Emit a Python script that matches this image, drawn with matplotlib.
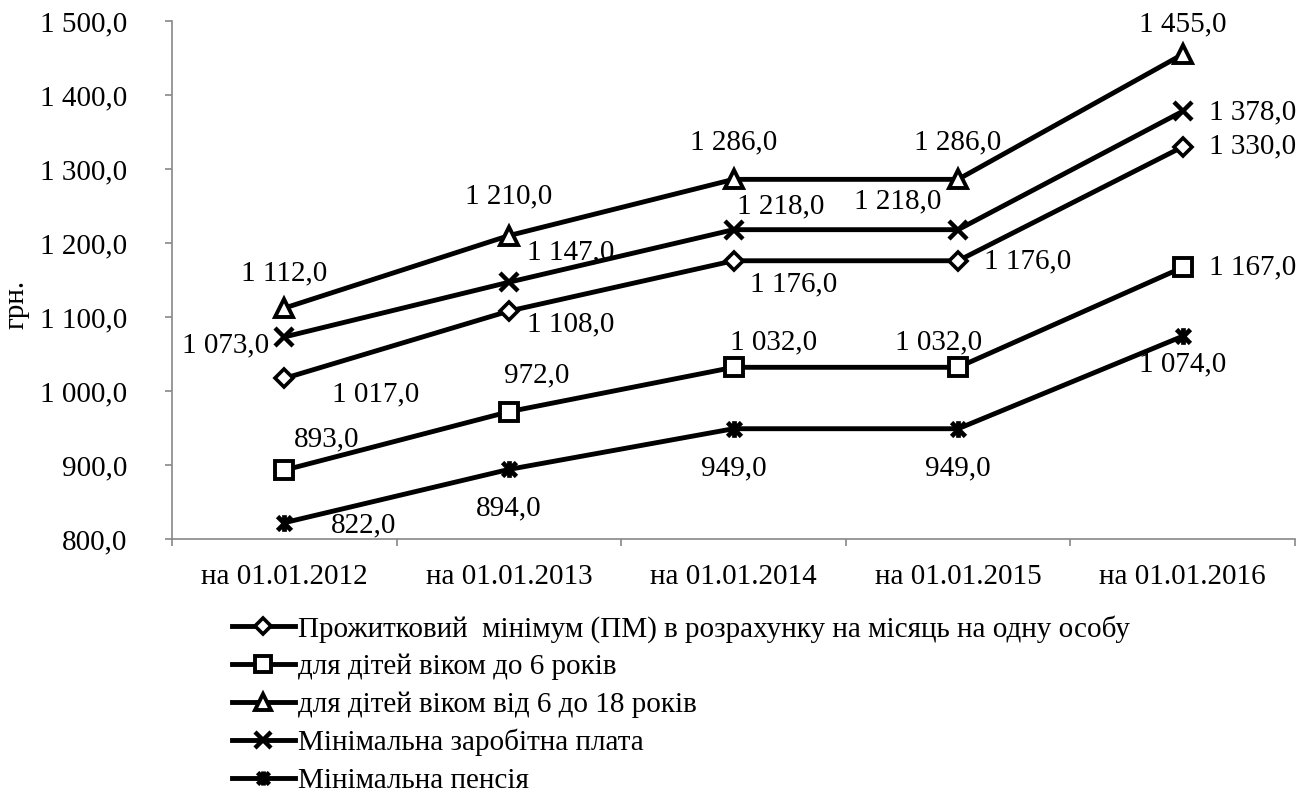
import matplotlib.pyplot as plt
from matplotlib.path import Path
from matplotlib.ticker import FuncFormatter, FixedLocator

plt.rcParams['font.family'] = ['Liberation Serif', 'DejaVu Serif']

# Data
dates = ["на 01.01.2012", "на 01.01.2013", "на 01.01.2014", "на 01.01.2015", "на 01.01.2016"]
pm = [1017, 1108, 1176, 1176, 1330]
kids_0_6 = [893, 972, 1032, 1032, 1167]
kids_6_18 = [1112, 1210, 1286, 1286, 1455]
min_wage = [1073, 1147, 1218, 1218, 1378]
min_pension = [822, 894, 949, 949, 1074]

names = ["Прожитковий  мінімум (ПМ) в розрахунку на місяць на одну особу",
         "для дітей віком до 6 років",
         "для дітей віком від 6 до 18 років",
         "Мінімальна заробітна плата",
         "Мінімальна пенсія"]


def fmt(v):
    s = "{:,.1f}".format(v)
    return s.replace(",", " ").replace(".", ",")


# star marker like Excel (x with vertical bar)
star = Path([(-1, -1), (1, 1), (-1, 1), (1, -1), (0, -1.2), (0, 1.2)],
            [Path.MOVETO, Path.LINETO, Path.MOVETO, Path.LINETO, Path.MOVETO, Path.LINETO])

series = [pm, kids_0_6, kids_6_18, min_wage, min_pension]
markers = ['D', 's', '^', 'x', star]
msizes = [9, 13, 13, 13, 12]
mews = [2.6, 2.8, 2.8, 3.2, 3.4]
faces = ['white', 'white', 'white', 'black', 'black']

# label offsets in pixels (dx, dy) for each point
offsets = [
    [(91, -16), (62, -13), (60, -24), (70, -1), (70, 0)],
    [(42, 31), (28, 36), (40, 25), (-20, 25), (70, 0)],
    [(0, 35), (0, 39), (0, 37), (0, 37), (0, 30)],
    [(-59, -8), (62, 30), (47, 23), (-60, 28), (70, -1)],
    [(79, -3), (0, -39), (0, -40), (0, -40), (0, -28)],
]

fig = plt.figure(figsize=(13.13, 7.96), dpi=100)
ax = fig.add_axes([0.131, 0.3229, 0.8553, 0.6507])

x = range(len(dates))
handles = []
for i, s in enumerate(series):
    h, = ax.plot(x, s, color='black', lw=3.5, marker=markers[i], ms=msizes[i],
                 mfc=faces[i], mec='black', mew=mews[i], label=names[i])
    handles.append(h)
    for j, v in enumerate(s):
        ax.annotate(fmt(v), (j, v), xytext=offsets[i][j], textcoords='offset pixels',
                    ha='center', va='center', fontsize=21)

ax.set_xlim(-0.5, 4.5)
ax.set_ylim(800, 1500)
ax.set_yticks(range(800, 1501, 100))
ax.yaxis.set_major_formatter(FuncFormatter(lambda v, p: fmt(v)))
ax.set_xticks(list(x))
ax.set_xticklabels(dates)
ax.xaxis.set_minor_locator(FixedLocator([-0.5, 0.5, 1.5, 2.5, 3.5, 4.5]))
ax.tick_params(axis='x', which='major', length=0, pad=18, labelsize=21)
ax.tick_params(axis='x', which='minor', length=5, color='#888888', width=1.2)
ax.tick_params(axis='y', length=5, color='#888888', width=1.2, pad=27, labelsize=21)

for side in ['top', 'right']:
    ax.spines[side].set_visible(False)
for side in ['left', 'bottom']:
    ax.spines[side].set_color('#888888')
    ax.spines[side].set_linewidth(1.2)

ax.set_ylabel("грн.", fontsize=21)
ax.yaxis.set_label_coords(-0.127, 0.452)

fig.legend(handles=handles, loc='upper left', bbox_to_anchor=(0.1767, 0.2275),
           frameon=False, fontsize=21, handlelength=2.15, handletextpad=0.1,
           labelspacing=0.38, borderaxespad=0, borderpad=0, markerscale=0.85)

plt.savefig("out.png", dpi=100)
